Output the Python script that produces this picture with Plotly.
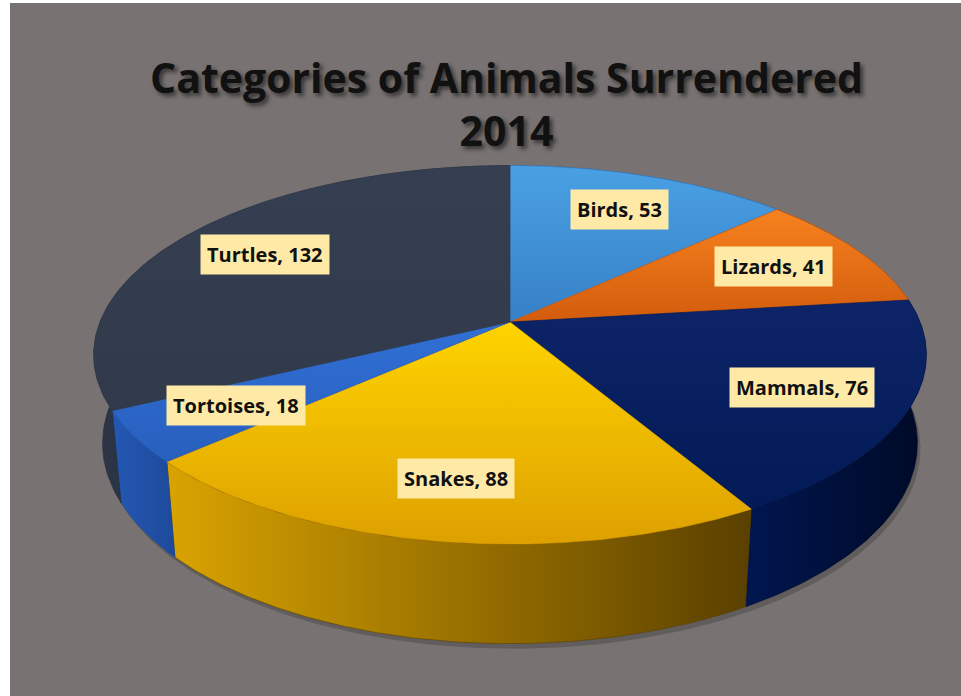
import numpy as np
import plotly.graph_objects as go

# ---------------- data ----------------
CATEGORIES = ["Birds", "Lizards", "Mammals", "Snakes", "Tortoises", "Turtles"]
VALUES = [53, 41, 76, 88, 18, 132]
TITLE_LINES = ["Categories of Animals Surrendered", "2014"]

# ---------------- styles ----------------
TOP_COLORS = [  # (upper, lower) gradient of the top face
    ("#4aa0e4", "#3680c6"),
    ("#f7821f", "#d25c0c"),
    ("#0d2468", "#021a55"),
    ("#ffd400", "#dda000"),
    ("#3170d6", "#285fbd"),
    ("#363f51", "#313a4b"),
]
SIDE_COLORS = [  # (left, right) gradient of the side wall
    ("#2f6fae", "#2a5f96"),
    ("#b8520b", "#8f3f08"),
    ("#001650", "#000a26"),
    ("#d9a300", "#5a4000"),
    ("#2458b4", "#1d4a9a"),
    ("#2c3545", "#262e3d"),
]
BG = "#787272"
LABEL_BG = "#FFE9A6"
FONT = "Open Sans"
W, H = 961, 696

# projection parameters (pixels)
CX, CY = 510, 322
SCALE = 410
K = 0.194            # radius / camera distance (perspective)
TILT = np.radians(26.6)
THICK = 0.243        # thickness relative to radius
LABEL_F = 0.75


def project(theta, r=1.0, y3=0.0):
    u = r * np.sin(theta)
    w = r * np.cos(theta)
    depth = 1 + K * (w * np.cos(TILT) - y3 * np.sin(TILT))
    sx = CX + SCALE * u / depth
    sy = CY - SCALE * (y3 * np.cos(TILT) + w * np.sin(TILT)) / depth
    return sx, sy


vals = np.array(VALUES, dtype=float)
cum = np.concatenate([[0], np.cumsum(vals)]) / vals.sum() * 2 * np.pi

fig = go.Figure()

# soft shadow under the pie
th_all = np.linspace(0, 2 * np.pi, 361)
shx, shy = project(th_all, 1.0, -THICK)
fig.add_trace(go.Scatter(x=shx + 3, y=shy + 5, mode="lines", fill="toself",
                         fillcolor="rgba(0,0,0,0.18)", line=dict(width=0),
                         hoverinfo="skip", showlegend=False))

# side walls
for i in range(len(VALUES)):
    th = np.linspace(cum[i], cum[i + 1], 120)
    tx, ty = project(th, 1.0, 0.0)
    bx, by = project(th[::-1], 1.0, -THICK)
    xs = np.concatenate([tx, bx, tx[:1]])
    ys = np.concatenate([ty, by, ty[:1]])
    c0, c1 = SIDE_COLORS[i]
    fig.add_trace(go.Scatter(
        x=xs, y=ys, mode="lines", fill="toself",
        fillgradient=dict(type="horizontal", colorscale=[[0, c0], [1, c1]]),
        line=dict(width=0.6, color=c1), hoverinfo="skip", showlegend=False))

# top faces
for i in range(len(VALUES)):
    th = np.linspace(cum[i], cum[i + 1], 160)
    tx, ty = project(th, 1.0, 0.0)
    xs = np.concatenate([[CX], tx, [CX]])
    ys = np.concatenate([[CY], ty, [CY]])
    c_up, c_low = TOP_COLORS[i]
    fig.add_trace(go.Scatter(
        x=xs, y=ys, mode="lines", fill="toself",
        fillgradient=dict(type="vertical", colorscale=[[0, c_low], [1, c_up]]),
        line=dict(width=0.6, color=c_low), hoverinfo="skip", showlegend=False))

# data labels
annotations = []
for i, (cat, v) in enumerate(zip(CATEGORIES, VALUES)):
    mid = (cum[i] + cum[i + 1]) / 2
    lx, ly = project(mid, LABEL_F, 0.0)
    annotations.append(dict(
        x=float(lx), y=float(ly), xref="x", yref="y",
        text=f"{cat}, {v}", showarrow=False,
        font=dict(family=FONT, size=20, color="#111111", weight="bold"),
        bgcolor=LABEL_BG, borderpad=6, xanchor="center", yanchor="middle"))

annotations.append(dict(
    x=506, y=47, xref="x", yref="y", xanchor="center", yanchor="top",
    text="<br>".join(TITLE_LINES), showarrow=False,
    font=dict(family=FONT, size=41, color="#111111", weight="bold",
              shadow="3px 3px 4px rgba(0,0,0,0.55)"),
    align="center"))

fig.update_layout(
    width=W, height=H,
    margin=dict(l=10, r=0, t=3, b=0),
    paper_bgcolor="white", plot_bgcolor=BG,
    xaxis=dict(range=[10, W], visible=False, fixedrange=True),
    yaxis=dict(range=[H, 3], visible=False, fixedrange=True),
    annotations=annotations,
    showlegend=False, hovermode=False,
)

fig.write_html("out.html", config={"displayModeBar": False})
